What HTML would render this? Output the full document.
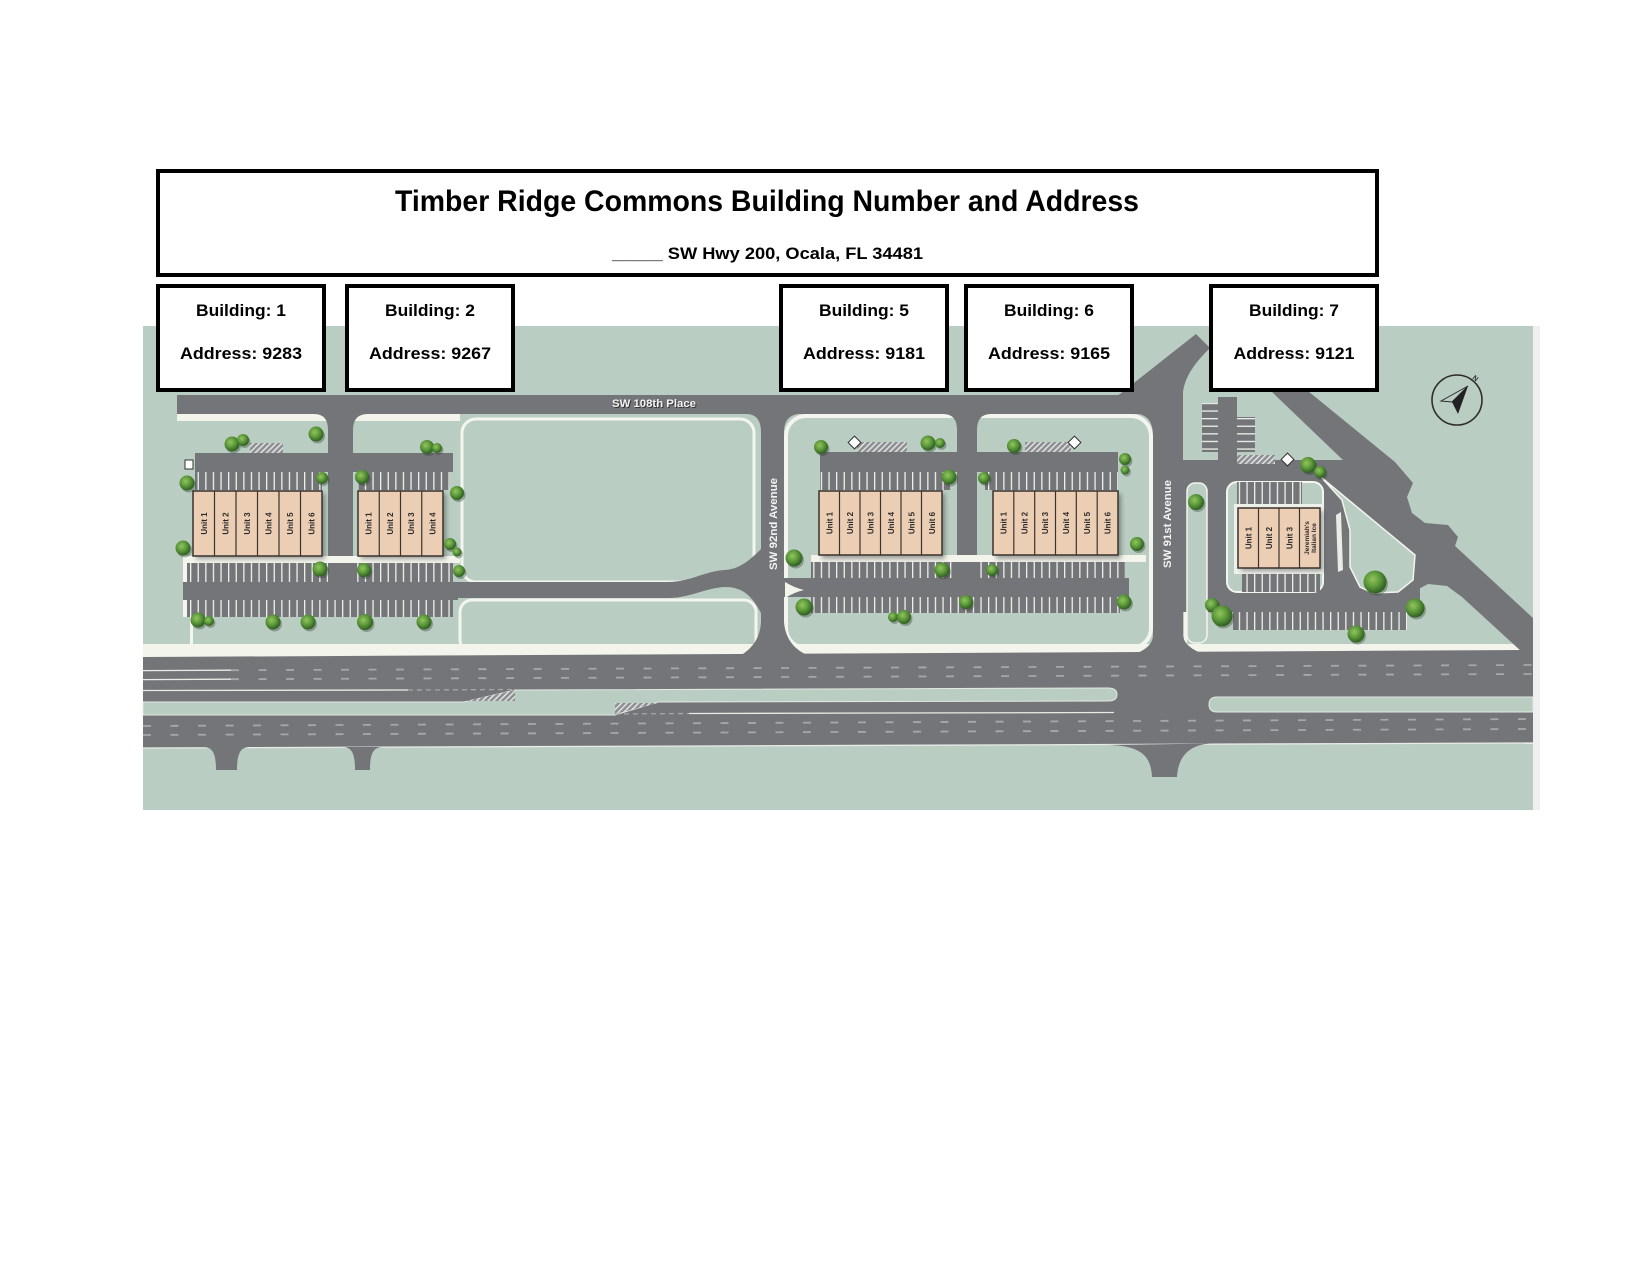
<!DOCTYPE html>
<html><head><meta charset="utf-8"><style>
html,body{margin:0;padding:0;background:#fff;}
svg{display:block;}
text{font-family:"Liberation Sans",Arial,sans-serif;}
</style></head><body>
<svg width="1650" height="1275" viewBox="0 0 1650 1275" xmlns="http://www.w3.org/2000/svg">
<defs>
<pattern id="sv" width="7.6" height="20" patternUnits="userSpaceOnUse"><rect width="7.6" height="20" fill="#747579"/><rect width="1.3" height="20" fill="#eef0ea"/></pattern>
<pattern id="sh" width="20" height="7.6" patternUnits="userSpaceOnUse"><rect width="20" height="7.6" fill="#747579"/><rect width="20" height="1.3" fill="#eef0ea"/></pattern>
<pattern id="hatch" width="4" height="4" patternUnits="userSpaceOnUse" patternTransform="rotate(45)"><rect width="4" height="4" fill="#8e8f93"/><rect width="1.4" height="4" fill="#e6e7e6"/></pattern>
<radialGradient id="tg" cx="40%" cy="38%" r="62%"><stop offset="0" stop-color="#93c45e"/><stop offset="0.5" stop-color="#5f9c3c"/><stop offset="1" stop-color="#2f5f22"/></radialGradient>
<filter id="bs" x="-20%" y="-20%" width="140%" height="150%"><feGaussianBlur stdDeviation="2.5"/></filter>
</defs>

<!-- map base -->
<rect x="143" y="326" width="1390" height="484" fill="#bacdc2"/>
<rect x="1533" y="326" width="7" height="484" fill="#eeefee"/>

<!-- green outlined regions -->
<rect x="462" y="419" width="292" height="163" rx="14" fill="none" stroke="#f3f5ee" stroke-width="3"/>
<rect x="460" y="600" width="296" height="52" rx="12" fill="none" stroke="#f3f5ee" stroke-width="3"/>
<rect x="786" y="416" width="365" height="232" rx="20" fill="#bacdc2" stroke="#f3f5ee" stroke-width="4"/>
<rect x="183" y="563" width="4" height="54" fill="#f3f5ee"/>
<rect x="190" y="617" width="3" height="30" fill="#f3f5ee"/>
<rect x="1184" y="470" width="3" height="178" fill="#f3f5ee"/>

<!-- highway sidewalk -->
<rect x="143" y="644" width="1390" height="13" fill="#f3f5ec"/>

<!-- highway -->
<polygon points="143,657 1533,650 1533,743 143,748" fill="#747579"/>
<path d="M143,702 L464,702 L515,690 L1108,688 Q1117,688 1117,694.5 Q1117,701 1108,701 L658,702 L615,715 L143,715 Z" fill="#bacdc2" stroke="#e4e9e2" stroke-width="1"/>
<path d="M1533,697 L1217,697 Q1209,697 1209,704.5 Q1209,712 1217,712 L1533,712 Z" fill="#bacdc2" stroke="#e4e9e2" stroke-width="1"/>
<polygon points="466,701 515,690 515,701" fill="url(#hatch)"/>
<polygon points="615,703 658,703 615,714" fill="url(#hatch)"/>
<g stroke="#e9ebe6" stroke-width="1.3" fill="none">
<line x1="143" y1="670.6" x2="231" y2="670.2"/>
<line x1="143" y1="679.6" x2="231" y2="679.2"/>
<line x1="143" y1="690.5" x2="408" y2="690"/>
<line x1="689" y1="713.5" x2="1114" y2="712.5"/>
<line x1="143" y1="748" x2="1533" y2="743"/>
</g>
<g stroke="#a6a7ab" stroke-width="1.8" fill="none" stroke-dasharray="8 19.5">
<line x1="231" y1="670.2" x2="1533" y2="665"/>
<line x1="231" y1="679.2" x2="1533" y2="674"/>
<line x1="143" y1="726" x2="1533" y2="719"/>
<line x1="143" y1="735" x2="1533" y2="729"/>
</g>
<line x1="408" y1="690" x2="515" y2="689.5" stroke="#a6a7ab" stroke-width="1.3" stroke-dasharray="5 4"/>
<line x1="615" y1="714" x2="689" y2="713.5" stroke="#a6a7ab" stroke-width="1.3" stroke-dasharray="5 4"/>

<!-- stubs -->
<g fill="#747579">
<path d="M203,747 C213,747 216,754 216,770 L237,770 C237,754 240,747 250,747 Z"/>
<path d="M343,747 C352,747 355,754 355,770 L370,770 C370,754 373,747 383,747 Z"/>
<path d="M1105,745 C1140,745 1151,755 1152,777 L1177,777 C1178,756 1190,744 1212,743.5 Z"/>
</g>

<!-- north roads -->
<g fill="#747579">
<rect x="177" y="395" width="990" height="19"/>
</g>
<rect x="177" y="414" width="283" height="7" fill="#f3f5ec"/>
<g fill="#747579">
<path d="M314,414 Q328,414 328,430 L328,600 L353,600 L353,430 Q353,414 368,414 Z"/>
<path d="M746,414 Q761,414 761,432 L761,622 Q760,645 738,657 L812,657 Q786,648 784,622 L784,432 Q784,416 798,414 Z"/>
<path d="M1118,395.5 L1196,334 L1210,348 Q1185,372 1183,392 L1183,636 Q1185,650 1214,657 L1126,657 Q1152,650 1153,636 L1153,436 Q1153,416 1138,414 L1118,414 Z"/>
<!-- middle block -->
<path d="M943,414 Q957,414 957,430 L957,597 L977,597 L977,430 Q977,414 991,414 Z"/>
<rect x="820" y="452" width="298" height="20"/>
<rect x="784" y="578" width="345" height="19"/>
<!-- left block -->
<rect x="195" y="453" width="135" height="19"/>
<rect x="353" y="453" width="100" height="19"/>
<rect x="183" y="582" width="275" height="18"/>
<path d="M450,582 L668,582 C690,582 705,571 725,570 C740,569 750,560 762,548 L762,615 C752,595 742,587 725,587 C705,588 690,598 668,598 L450,598 Z"/>
</g>

<!-- stall rows middle -->
<rect x="820" y="472" width="130" height="18" fill="url(#sv)"/>
<rect x="985" y="472" width="133" height="18" fill="url(#sv)"/>
<rect x="811" y="555" width="335" height="7" fill="#f3f5ec"/>
<rect x="811" y="562" width="146" height="16" fill="url(#sv)"/>
<rect x="977" y="562" width="148" height="16" fill="url(#sv)"/>
<rect x="811" y="597" width="309" height="16" fill="url(#sv)"/>
<path d="M785,582 Q795,588 804,590 Q795,592 785,598 Z" fill="#f3f5ec"/>
<rect x="857" y="442" width="50" height="10" fill="url(#hatch)"/>
<rect x="1025" y="442" width="46" height="10" fill="url(#hatch)"/>
<rect x="850" y="438" width="9" height="9" transform="rotate(45 854.5 442.5)" fill="#fff" stroke="#333" stroke-width="1"/>
<rect x="1070" y="438" width="9" height="9" transform="rotate(45 1074.5 442.5)" fill="#fff" stroke="#333" stroke-width="1"/>

<!-- stall rows left -->
<rect x="195" y="472" width="127" height="18" fill="url(#sv)"/>
<rect x="358" y="472" width="92" height="18" fill="url(#sv)"/>
<rect x="183" y="556" width="277" height="7" fill="#f3f5ec"/>
<rect x="187" y="563" width="141" height="19" fill="url(#sv)"/>
<rect x="353" y="563" width="100" height="19" fill="url(#sv)"/>
<rect x="187" y="600" width="266" height="17" fill="url(#sv)"/>
<rect x="250" y="443" width="33" height="10" fill="url(#hatch)"/>
<rect x="185" y="460" width="8" height="9" fill="#fff" stroke="#333" stroke-width="1"/>

<!-- right block -->
<g fill="#747579">
<polygon points="1183,460 1345,460 1420,540 1420,612 1183,612"/>
<polygon points="1262,378 1292,378 1395,462 1413,483 1407,497 1412,513 1425,523 1448,525 1458,537 1455,546 1533,618 1533,652 1522,652 1462,597 1447,586 1428,584 1413,592 1413,552 1345,462 1273,393"/>
<rect x="1218" y="397" width="19" height="66"/>
</g>
<rect x="1202" y="403" width="16" height="49" fill="url(#sh)"/>
<rect x="1237" y="417" width="18" height="35" fill="url(#sh)"/>
<rect x="1237" y="455" width="38" height="9" fill="url(#hatch)"/>
<rect x="1283" y="455" width="9" height="9" transform="rotate(45 1287.5 459.5)" fill="#fff" stroke="#333" stroke-width="1"/>
<rect x="1187" y="483" width="20" height="160" rx="8" fill="#bacdc2" stroke="#f3f5ee" stroke-width="1.5"/>
<rect x="1227" y="482" width="96" height="110" rx="10" fill="#bacdc2" stroke="#f3f5ee" stroke-width="2"/>
<rect x="1237" y="482" width="65" height="22" fill="url(#sv)"/>
<rect x="1242" y="572" width="78" height="20" fill="url(#sv)"/>
<rect x="1234" y="504" width="90" height="70" fill="#eef0ea"/>
<polygon points="1322,478 1415,555 1413,580 1398,592 1373,593 1360,587 1350,567 1350,530 1342,500" fill="#bacdc2" stroke="#f3f5ee" stroke-width="1.5"/>
<polygon points="1336,515 1341,512 1343,570 1338,572" fill="#e9ebe6"/>
<rect x="1233" y="612" width="174" height="18" fill="url(#sv)"/>

<!-- buildings -->
<g>
<rect x="196" y="494" width="129" height="65" fill="#000" opacity=".35" filter="url(#bs)"/>
<rect x="361" y="494" width="85" height="65" fill="#000" opacity=".35" filter="url(#bs)"/>
<rect x="822" y="494" width="123" height="65" fill="#000" opacity=".35" filter="url(#bs)"/>
<rect x="996" y="494" width="125" height="65" fill="#000" opacity=".35" filter="url(#bs)"/>
<rect x="1241" y="511" width="82" height="60" fill="#000" opacity=".35" filter="url(#bs)"/>
</g>
<g fill="#ecceb5" stroke="#3a332e" stroke-width="1.5">
<rect x="193" y="491" width="129" height="65"/>
<rect x="358" y="491" width="85" height="65"/>
<rect x="819" y="491" width="123" height="64"/>
<rect x="993" y="491" width="125" height="64"/>
<rect x="1238" y="508" width="82" height="60"/>
</g>
<g stroke="#3a332e" stroke-width="1.2">
<line x1="214.5" y1="491" x2="214.5" y2="556"/><line x1="236" y1="491" x2="236" y2="556"/><line x1="257.5" y1="491" x2="257.5" y2="556"/><line x1="279" y1="491" x2="279" y2="556"/><line x1="300.5" y1="491" x2="300.5" y2="556"/>
<line x1="379.25" y1="491" x2="379.25" y2="556"/><line x1="400.5" y1="491" x2="400.5" y2="556"/><line x1="421.75" y1="491" x2="421.75" y2="556"/>
<line x1="839.5" y1="491" x2="839.5" y2="555"/><line x1="860" y1="491" x2="860" y2="555"/><line x1="880.5" y1="491" x2="880.5" y2="555"/><line x1="901" y1="491" x2="901" y2="555"/><line x1="921.5" y1="491" x2="921.5" y2="555"/>
<line x1="1013.8" y1="491" x2="1013.8" y2="555"/><line x1="1034.7" y1="491" x2="1034.7" y2="555"/><line x1="1055.5" y1="491" x2="1055.5" y2="555"/><line x1="1076.3" y1="491" x2="1076.3" y2="555"/><line x1="1097.2" y1="491" x2="1097.2" y2="555"/>
<line x1="1258.5" y1="508" x2="1258.5" y2="568"/><line x1="1279" y1="508" x2="1279" y2="568"/><line x1="1299.5" y1="508" x2="1299.5" y2="568"/>
</g>
<g font-size="8" font-weight="bold" fill="#2b2b2b" text-anchor="middle">
<text transform="translate(203.75,523.5) rotate(-90)" y="3">Unit 1</text>
<text transform="translate(225.25,523.5) rotate(-90)" y="3">Unit 2</text>
<text transform="translate(246.75,523.5) rotate(-90)" y="3">Unit 3</text>
<text transform="translate(268.25,523.5) rotate(-90)" y="3">Unit 4</text>
<text transform="translate(289.75,523.5) rotate(-90)" y="3">Unit 5</text>
<text transform="translate(311.25,523.5) rotate(-90)" y="3">Unit 6</text>
<text transform="translate(368.6,523.5) rotate(-90)" y="3">Unit 1</text>
<text transform="translate(389.9,523.5) rotate(-90)" y="3">Unit 2</text>
<text transform="translate(411.1,523.5) rotate(-90)" y="3">Unit 3</text>
<text transform="translate(432.4,523.5) rotate(-90)" y="3">Unit 4</text>
<text transform="translate(829.25,523) rotate(-90)" y="3">Unit 1</text>
<text transform="translate(849.75,523) rotate(-90)" y="3">Unit 2</text>
<text transform="translate(870.25,523) rotate(-90)" y="3">Unit 3</text>
<text transform="translate(890.75,523) rotate(-90)" y="3">Unit 4</text>
<text transform="translate(911.25,523) rotate(-90)" y="3">Unit 5</text>
<text transform="translate(931.75,523) rotate(-90)" y="3">Unit 6</text>
<text transform="translate(1003.4,523) rotate(-90)" y="3">Unit 1</text>
<text transform="translate(1024.3,523) rotate(-90)" y="3">Unit 2</text>
<text transform="translate(1045.1,523) rotate(-90)" y="3">Unit 3</text>
<text transform="translate(1065.9,523) rotate(-90)" y="3">Unit 4</text>
<text transform="translate(1086.8,523) rotate(-90)" y="3">Unit 5</text>
<text transform="translate(1107.6,523) rotate(-90)" y="3">Unit 6</text>
<text transform="translate(1248.25,538) rotate(-90)" y="3">Unit 1</text>
<text transform="translate(1268.75,538) rotate(-90)" y="3">Unit 2</text>
<text transform="translate(1289.25,538) rotate(-90)" y="3">Unit 3</text>
<text transform="translate(1309.75,538) rotate(-90)" y="-1" font-size="6.5">Jeremiah's</text>
<text transform="translate(1309.75,538) rotate(-90)" y="6" font-size="6.5">Italian Ice</text>
</g>

<!-- trees -->
<g fill="#2a3a2a" opacity=".35" transform="translate(1.5,2)">
<circle cx="316" cy="434" r="7.5"/><circle cx="232" cy="444" r="7.5"/><circle cx="243" cy="440" r="6"/><circle cx="187" cy="483" r="7.5"/><circle cx="322" cy="478" r="6"/><circle cx="183" cy="548" r="7.5"/><circle cx="320" cy="569" r="7.5"/><circle cx="427" cy="447" r="7"/><circle cx="437" cy="448" r="5"/><circle cx="362" cy="477" r="7"/><circle cx="457" cy="493" r="7"/><circle cx="450" cy="544" r="6"/><circle cx="457" cy="552" r="4.5"/><circle cx="459" cy="571" r="6"/><circle cx="364" cy="570" r="7"/><circle cx="198" cy="620" r="7.5"/><circle cx="209" cy="621" r="5"/><circle cx="273" cy="622" r="7.5"/><circle cx="308" cy="622" r="7.5"/><circle cx="365" cy="622" r="8"/><circle cx="424" cy="622" r="7.5"/>
<circle cx="821" cy="447" r="7"/><circle cx="928" cy="443" r="7.5"/><circle cx="940" cy="443" r="5"/><circle cx="949" cy="477" r="7.5"/><circle cx="1014" cy="446" r="7"/><circle cx="984" cy="478" r="6"/><circle cx="1125" cy="459" r="6"/><circle cx="1125" cy="470" r="4.5"/><circle cx="1137" cy="544" r="7"/><circle cx="794" cy="558" r="8.5"/><circle cx="942" cy="570" r="7.5"/><circle cx="992" cy="570" r="6"/><circle cx="804" cy="607" r="8.5"/><circle cx="893" cy="617" r="5"/><circle cx="904" cy="617" r="7"/><circle cx="966" cy="602" r="7"/><circle cx="1124" cy="602" r="7.5"/>
<circle cx="1196" cy="502" r="8"/><circle cx="1308" cy="465" r="8"/><circle cx="1320" cy="472" r="6"/><circle cx="1375" cy="582" r="11.5"/><circle cx="1415" cy="608" r="9.5"/><circle cx="1212" cy="605" r="7"/><circle cx="1222" cy="616" r="10.5"/><circle cx="1356" cy="634" r="8.5"/>
</g>
<g fill="url(#tg)">
<circle cx="316" cy="434" r="7.5"/><circle cx="232" cy="444" r="7.5"/><circle cx="243" cy="440" r="6"/><circle cx="187" cy="483" r="7.5"/><circle cx="322" cy="478" r="6"/><circle cx="183" cy="548" r="7.5"/><circle cx="320" cy="569" r="7.5"/><circle cx="427" cy="447" r="7"/><circle cx="437" cy="448" r="5"/><circle cx="362" cy="477" r="7"/><circle cx="457" cy="493" r="7"/><circle cx="450" cy="544" r="6"/><circle cx="457" cy="552" r="4.5"/><circle cx="459" cy="571" r="6"/><circle cx="364" cy="570" r="7"/><circle cx="198" cy="620" r="7.5"/><circle cx="209" cy="621" r="5"/><circle cx="273" cy="622" r="7.5"/><circle cx="308" cy="622" r="7.5"/><circle cx="365" cy="622" r="8"/><circle cx="424" cy="622" r="7.5"/>
<circle cx="821" cy="447" r="7"/><circle cx="928" cy="443" r="7.5"/><circle cx="940" cy="443" r="5"/><circle cx="949" cy="477" r="7.5"/><circle cx="1014" cy="446" r="7"/><circle cx="984" cy="478" r="6"/><circle cx="1125" cy="459" r="6"/><circle cx="1125" cy="470" r="4.5"/><circle cx="1137" cy="544" r="7"/><circle cx="794" cy="558" r="8.5"/><circle cx="942" cy="570" r="7.5"/><circle cx="992" cy="570" r="6"/><circle cx="804" cy="607" r="8.5"/><circle cx="893" cy="617" r="5"/><circle cx="904" cy="617" r="7"/><circle cx="966" cy="602" r="7"/><circle cx="1124" cy="602" r="7.5"/>
<circle cx="1196" cy="502" r="8"/><circle cx="1308" cy="465" r="8"/><circle cx="1320" cy="472" r="6"/><circle cx="1375" cy="582" r="11.5"/><circle cx="1415" cy="608" r="9.5"/><circle cx="1212" cy="605" r="7"/><circle cx="1222" cy="616" r="10.5"/><circle cx="1356" cy="634" r="8.5"/>
</g>

<!-- compass -->
<circle cx="1457" cy="400" r="25" fill="none" stroke="#2e2e2e" stroke-width="1.6"/>
<polygon points="1468,386 1441,401 1452,402" fill="none" stroke="#2e2e2e" stroke-width="1"/>
<polygon points="1468,386 1452,402 1458,414" fill="#222"/>
<text transform="translate(1474,380) rotate(40)" font-size="7" font-weight="bold" fill="#2e2e2e" text-anchor="middle">N</text>

<!-- road labels -->
<g font-size="11" font-weight="bold">
<text x="613" y="408" fill="#333" textLength="84" lengthAdjust="spacingAndGlyphs">SW 108th Place</text>
<text x="612" y="407" fill="#f4f4f4" textLength="84" lengthAdjust="spacingAndGlyphs">SW 108th Place</text>
<text transform="translate(773,524) rotate(-90)" text-anchor="middle" y="4" fill="#f4f4f4" textLength="92" lengthAdjust="spacingAndGlyphs">SW 92nd Avenue</text>
<text transform="translate(1167,524) rotate(-90)" text-anchor="middle" y="4" fill="#f4f4f4" textLength="88" lengthAdjust="spacingAndGlyphs">SW 91st Avenue</text>
</g>

<!-- header -->
<rect x="158" y="171" width="1219" height="104" fill="#fff" stroke="#000" stroke-width="4"/>
<text x="395" y="211" font-size="30" font-weight="bold" fill="#000" textLength="744" lengthAdjust="spacingAndGlyphs">Timber Ridge Commons Building Number and Address</text>
<text x="612" y="259" font-size="17" font-weight="bold" fill="#000" textLength="311" lengthAdjust="spacingAndGlyphs">_____ SW Hwy 200, Ocala, FL 34481</text>

<g fill="#fff" stroke="#000" stroke-width="4">
<rect x="158" y="286" width="166" height="104"/>
<rect x="347" y="286" width="166" height="104"/>
<rect x="781" y="286" width="166" height="104"/>
<rect x="966" y="286" width="166" height="104"/>
<rect x="1211" y="286" width="166" height="104"/>
</g>
<g font-size="17" font-weight="bold" fill="#000" text-anchor="middle" lengthAdjust="spacingAndGlyphs">
<text x="241" y="316" textLength="90" lengthAdjust="spacingAndGlyphs">Building: 1</text>
<text x="241" y="359" textLength="122" lengthAdjust="spacingAndGlyphs">Address: 9283</text>
<text x="430" y="316" textLength="90" lengthAdjust="spacingAndGlyphs">Building: 2</text>
<text x="430" y="359" textLength="122" lengthAdjust="spacingAndGlyphs">Address: 9267</text>
<text x="864" y="316" textLength="90" lengthAdjust="spacingAndGlyphs">Building: 5</text>
<text x="864" y="359" textLength="122" lengthAdjust="spacingAndGlyphs">Address: 9181</text>
<text x="1049" y="316" textLength="90" lengthAdjust="spacingAndGlyphs">Building: 6</text>
<text x="1049" y="359" textLength="122" lengthAdjust="spacingAndGlyphs">Address: 9165</text>
<text x="1294" y="316" textLength="90" lengthAdjust="spacingAndGlyphs">Building: 7</text>
<text x="1294" y="359" textLength="121" lengthAdjust="spacingAndGlyphs">Address: 9121</text>
</g>
</svg>
</body></html>
